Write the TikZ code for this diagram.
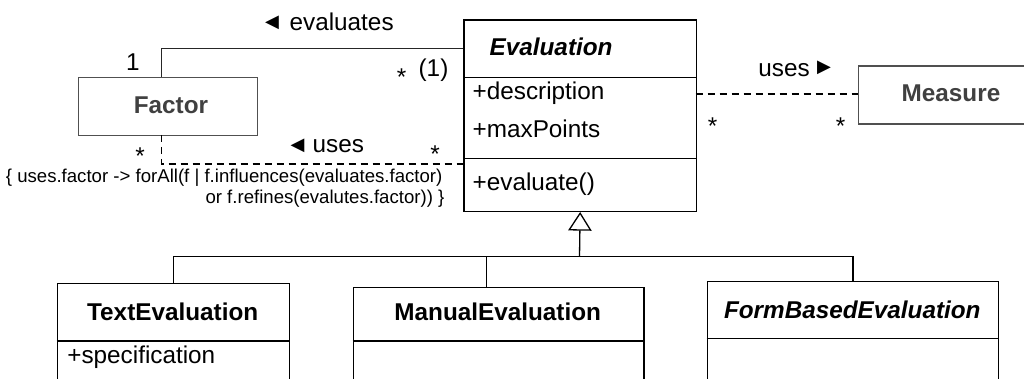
\documentclass[tikz,border=0pt]{standalone}
\usepackage{fontspec}
\setmainfont{Liberation Sans}
\newfontfamily\symfont{DejaVu Sans}
\usetikzlibrary{arrows.meta}
\definecolor{gtext}{HTML}{404040}
\definecolor{gline}{HTML}{505050}
\begin{document}
\begin{tikzpicture}[x=1pt,y=-1pt,line width=1.3pt,
  box/.style={draw,inner sep=0pt,anchor=north west},
  gbox/.style={box,draw=gline},
  big/.style={font=\fontsize{24.3}{29}\selectfont,inner sep=0pt},
  small/.style={font=\fontsize{18.6}{21}\selectfont,inner sep=0pt},
  tri/.style={font=\symfont\fontsize{18}{18}\selectfont,inner sep=0pt},
  cname/.style={big,font=\fontsize{24.3}{29}\selectfont\bfseries},
  aname/.style={big,font=\fontsize{24.3}{29}\selectfont\bfseries\itshape},
  assoc/.style={draw=black!85},
  dep/.style={dash pattern=on 7pt off 5pt},
  gen/.style={-{Triangle[open,fill=white,length=18.6pt,width=23.4pt]}}]
\useasboundingbox (0,0) rectangle (1024,379);
\clip (0,0) rectangle (1024,379);

% class boxes
\node[box,minimum width=232.4pt,minimum height=191.4pt] (eval) at (463.3,19.3) {};
\draw (eval.west |- 0,77.3) -- (eval.east |- 0,77.3);
\draw (eval.west |- 0,158.7) -- (eval.east |- 0,158.7);
\node[aname,anchor=base west] (evalname) at (489,56) {Evaluation};
\node[big,anchor=base west] (a1) at (472,100) {+description};
\node[big,anchor=base west] (a2) at (472,137.3) {+maxPoints};
\node[big,anchor=base west] (m1) at (472,191) {+evaluate()};

\node[gbox,minimum width=179pt,minimum height=58pt] (factor) at (78,77) {};
\node[cname,text=gtext,anchor=base] (factorname) at (171,113.3) {Factor};

\node[gbox,minimum width=190pt,minimum height=58pt] (measure) at (857.7,65.3) {};
\node[cname,text=gtext,anchor=base] (measurename) at (951,101.7) {Measure};

\node[box,minimum width=232pt,minimum height=130pt] (te) at (56.7,282.7) {};
\draw (te.west |- 0,341) -- (te.east |- 0,341);
\node[cname,anchor=base] (tename) at (172.7,320) {TextEvaluation};
\node[big,anchor=base west] (tea) at (66.7,363.3) {+specification};

\node[box,minimum width=290.6pt,minimum height=130pt] (me) at (352.7,286.7) {};
\draw (me.west |- 0,341) -- (me.east |- 0,341);
\node[cname,anchor=base] (mename) at (497.7,320) {ManualEvaluation};

\node[box,minimum width=291pt,minimum height=130pt] (fe) at (706.7,280.7) {};
\draw (fe.west |- 0,338.3) -- (fe.east |- 0,338.3);
\node[aname,anchor=base] (fename) at (852.3,318.3) {FormBasedEvaluation};

% association: evaluates
\coordinate (fTop) at (161.7,77);
\coordinate (eL1) at (463.3,48.3);
\draw[assoc] (fTop) |- (eL1);
\node[tri] (t1) at (272,22.7) {◀};
\node[big,anchor=base west] (l1) at (289,30.5) {evaluates};
\node[big,anchor=base] (mult1) at (133,70.4) {1};
\node[big,anchor=base] (mult2) at (401.7,85.6) {*};
\node[big,anchor=base west] (mult3) at (418,76.3) {(1)};

% dependency: uses (Factor)
\coordinate (fBot) at (161.7,135);
\coordinate (eL2) at (463.3,164);
\draw[dep] (fBot) |- (eL2);
\node[tri] (t2) at (297.5,145.7) {◀};
\node[big,anchor=base west] (l2) at (312,152.5) {uses};
\node[big,anchor=base] (mult4) at (140,164.6) {*};
\node[big,anchor=base] (mult5) at (435,163) {*};
\node[small,anchor=base east] (c1) at (443,183) {\{ uses.factor -> forAll(f | f.influences(evaluates.factor)};
\node[small,anchor=base east] (c2) at (445,204) {or f.refines(evalutes.factor)) \}};

% dependency: uses (Measure)
\coordinate (eR) at (695.7,94);
\coordinate (mL) at (857.7,94);
\draw[dep] (eR) -- (mL);
\node[big,anchor=base west] (l3) at (757.7,76.7) {uses};
\node[tri] (t3) at (824,68.3) {▶};
\node[big,anchor=base] (mult6) at (712.7,134.9) {*};
\node[big,anchor=base] (mult7) at (840.7,134.9) {*};

% generalization
\coordinate (bus) at (579.5,256.7);
\coordinate (mTop) at (486.7,286.7);
\draw (te.north) |- (bus);
\draw (fe.north) |- (bus);
\draw (mTop) -- (mTop |- bus);
\draw[gen] (bus) -- (eval.south);
\end{tikzpicture}
\end{document}
